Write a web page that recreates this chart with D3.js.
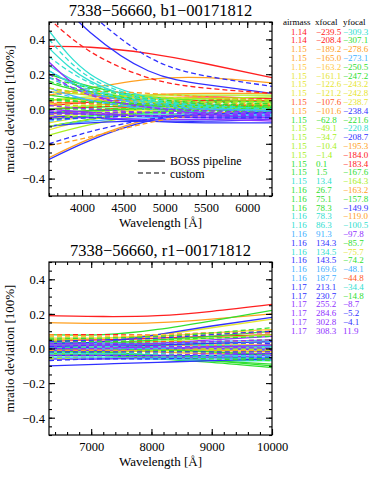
<!DOCTYPE html>
<html>
<head>
<meta charset="utf-8">
<script src="https://cdn.jsdelivr.net/npm/d3@7"></script>
<style>
body { margin: 0; background: #fff; }
text { font-family: "Liberation Serif", "DejaVu Serif", serif; fill: #000; }
</style>
</head>
<body>
<svg id="chart" width="374" height="480"></svg>
<script>
// colours used by the fibres (rainbow table)
var palette = {
    red: "#ff2020", ored: "#ff5a1e", orange: "#ffa020", yorange: "#ffc840",
    yellow: "#e6e630", ygreen: "#a8f020", green: "#30e030", cyan: "#30e0d0",
    lblue: "#40b0ff", blue: "#3030ff", purple: "#9030ff"
};

// fibre table
var airmass = ["1.14","1.14","1.15","1.15","1.15","1.15","1.15","1.15","1.15","1.15","1.15","1.15","1.15","1.15","1.15","1.15","1.15","1.15",
    "1.16","1.16","1.16","1.16","1.16","1.16","1.16","1.16","1.16","1.16","1.16","1.17","1.17","1.17","1.17","1.17","1.17"];
var xfocal = ["\u2212239.5","\u2212208.4","\u2212189.2","\u2212165.0","\u2212163.2","\u2212161.1","\u2212122.6","\u2212121.2","\u2212107.6","\u2212101.6",
    "\u221262.8","\u221249.1","\u221234.7","\u221210.4","\u22121.4","0.1","1.5","13.4","26.7","75.1","78.3","78.3","86.3","91.3",
    "134.3","134.5","143.5","169.6","187.7","213.1","230.7","255.2","284.6","302.8","308.3"];
var yfocal = ["\u2212309.3","\u2212307.1","\u2212278.6","\u2212273.1","\u2212250.5","\u2212247.2","\u2212243.2","\u2212242.8","\u2212238.7","\u2212238.4",
    "\u2212221.6","\u2212220.8","\u2212208.7","\u2212195.3","\u2212184.0","\u2212183.4","\u2212167.6","\u2212164.3","\u2212163.2","\u2212157.8",
    "\u2212149.9","\u2212119.0","\u2212100.5","\u221297.8","\u221285.7","\u221275.7","\u221274.2","\u221248.1","\u221244.8","\u221234.4",
    "\u221214.8","\u22128.7","\u22125.2","\u22124.1","11.9"];
var fiberColor = ["red","red","orange","orange","yorange","yellow","yellow","yellow","ored","orange","green","ygreen","ygreen","ygreen","ygreen",
    "green","green","cyan","green","green","green","cyan","cyan","lblue","blue","cyan","blue","lblue","lblue","blue","blue",
    "purple","purple","purple","purple"];
var yfocalColor = ["cyan","green","orange","lblue","green","green","yellow","yellow","yellow","blue","green","cyan","blue","orange","red",
    "red","green","ygreen","orange","green","blue","orange","cyan","purple","green","yellow","green","lblue","ored","cyan","green",
    "purple","blue","blue","purple"];

// b1 camera: mratio deviation at these wavelengths
var b1Wave = [3600, 4100, 4800, 5500, 6300];
var b1Solid = [
    [0.36, 0.355, 0.32, 0.26, 0.18], [0.02, 0.04, 0.06, 0.07, 0.06], [-0.28, -0.17, -0.06, -0.01, 0.0], [0.08, 0.12, 0.17, 0.18, 0.15],
    [0.05, 0.06, 0.07, 0.06, 0.04], [-0.12, -0.06, -0.01, 0.01, 0.0], [-0.08, -0.04, 0.0, 0.02, 0.03], [0.0, 0.02, 0.04, 0.05, 0.05],
    [-0.03, -0.01, 0.02, 0.04, 0.05], [0.03, 0.05, 0.08, 0.09, 0.09], [0.2, 0.13, 0.07, 0.05, 0.04], [-0.15, -0.09, -0.03, 0.0, 0.01],
    [0.1, 0.08, 0.06, 0.06, 0.07], [0.05, 0.07, 0.08, 0.08, 0.08], [-0.05, -0.02, 0.01, 0.02, 0.02], [0.15, 0.09, 0.04, 0.02, 0.01],
    [-0.1, -0.06, -0.02, 0.0, 0.0], [0.45, 0.2, 0.07, 0.03, 0.01], [0.0, 0.01, 0.02, 0.02, 0.01], [-0.02, -0.01, 0.0, 0.0, -0.01],
    [0.08, 0.05, 0.02, 0.0, -0.02], [0.35, 0.16, 0.05, 0.01, -0.01], [0.25, 0.12, 0.04, 0.0, -0.02], [0.22, 0.1, 0.02, -0.02, -0.03],
    [-0.29, -0.18, -0.07, -0.03, -0.02], [-0.06, -0.04, -0.03, -0.03, -0.04], [0.68, 0.44, 0.22, 0.14, 0.09], [-0.1, -0.07, -0.05, -0.05, -0.05],
    [0.12, 0.05, 0.0, -0.02, -0.04], [-0.04, -0.05, -0.07, -0.08, -0.08], [-0.1, -0.08, -0.07, -0.07, -0.06], [0.27, 0.09, 0.01, -0.03, -0.05],
    [-0.05, -0.05, -0.06, -0.06, -0.07], [0.0, -0.02, -0.04, -0.05, -0.06], [-0.02, -0.03, -0.04, -0.04, -0.05]
];
var b1Custom = [
    [0.52, 0.33, 0.18, 0.12, 0.09], [0.0, 0.01, 0.03, 0.05, 0.06], [-0.21, -0.16, -0.08, -0.03, 0.0], [0.08, 0.1, 0.09, 0.07, 0.05],
    [0.1, 0.09, 0.06, 0.04, 0.03], [-0.04, -0.02, 0.0, 0.01, 0.01], [0.03, 0.03, 0.03, 0.02, 0.01], [-0.06, -0.03, 0.0, 0.02, 0.02],
    [0.04, 0.03, 0.02, 0.02, 0.02], [0.12, 0.08, 0.04, 0.03, 0.03], [0.18, 0.12, 0.06, 0.04, 0.03], [-0.1, -0.06, -0.02, 0.0, 0.0],
    [0.12, 0.09, 0.07, 0.06, 0.05], [0.06, 0.05, 0.04, 0.04, 0.04], [0.02, 0.02, 0.02, 0.01, 0.0], [0.16, 0.1, 0.05, 0.03, 0.02],
    [-0.06, -0.04, -0.02, -0.01, -0.01], [0.4, 0.18, 0.06, 0.02, 0.0], [0.05, 0.04, 0.03, 0.02, 0.01], [0.0, 0.0, 0.0, -0.01, -0.02],
    [0.06, 0.04, 0.02, 0.01, 0.0], [0.3, 0.15, 0.05, 0.02, 0.0], [0.22, 0.11, 0.04, 0.01, -0.01], [0.18, 0.09, 0.03, 0.0, -0.01],
    [-0.2, -0.13, -0.06, -0.03, -0.02], [-0.03, -0.02, -0.02, -0.02, -0.03], [0.78, 0.55, 0.3, 0.19, 0.13], [-0.07, -0.05, -0.04, -0.04, -0.04],
    [0.1, 0.05, 0.01, 0.0, -0.01], [-0.02, -0.03, -0.04, -0.05, -0.05], [-0.06, -0.05, -0.04, -0.04, -0.04], [0.2, 0.08, 0.01, -0.01, -0.02],
    [-0.03, -0.03, -0.04, -0.04, -0.04], [0.02, 0.0, -0.02, -0.03, -0.03], [-0.01, -0.02, -0.02, -0.02, -0.03]
];

// r1 camera
var r1Wave = [6300, 7200, 8100, 9000, 10000];
var r1Solid = [
    [0.19, 0.185, 0.19, 0.215, 0.255], [0.05, 0.05, 0.06, 0.07, 0.08], [0.15, 0.145, 0.15, 0.17, 0.2], [0.02, 0.01, 0.0, -0.01, -0.02],
    [0.06, 0.06, 0.07, 0.09, 0.11], [0.05, 0.06, 0.08, 0.12, 0.17], [0.0, 0.01, 0.02, 0.03, 0.04], [-0.03, -0.02, -0.01, 0.0, 0.01],
    [0.04, 0.03, 0.02, 0.02, 0.02], [0.0, -0.01, -0.02, -0.03, -0.03], [0.08, 0.08, 0.11, 0.16, 0.22], [0.03, 0.03, 0.04, 0.06, 0.08],
    [-0.02, -0.02, -0.01, 0.0, 0.02], [0.01, 0.0, -0.01, -0.02, -0.03], [-0.04, -0.04, -0.05, -0.05, -0.06], [0.0, -0.02, -0.04, -0.07, -0.1],
    [-0.03, -0.04, -0.06, -0.08, -0.11], [-0.05, -0.05, -0.06, -0.07, -0.07], [0.04, 0.02, 0.0, -0.02, -0.04], [-0.01, -0.03, -0.05, -0.07, -0.09],
    [0.02, 0.03, 0.05, 0.07, 0.1], [0.0, 0.0, 0.0, 0.01, 0.01], [-0.02, -0.03, -0.04, -0.05, -0.06], [0.03, 0.03, 0.03, 0.04, 0.05],
    [0.03, 0.04, 0.08, 0.13, 0.18], [0.02, 0.02, 0.01, 0.0, -0.01], [-0.1, -0.09, -0.08, -0.07, -0.06], [-0.06, -0.06, -0.06, -0.06, -0.05],
    [0.01, 0.0, 0.0, 0.0, 0.0], [-0.04, -0.04, -0.04, -0.04, -0.03], [0.0, 0.01, 0.02, 0.03, 0.04], [0.02, 0.02, 0.03, 0.05, 0.07],
    [-0.01, -0.01, 0.0, 0.01, 0.02], [-0.06, -0.06, -0.05, -0.05, -0.04], [0.01, 0.01, 0.0, 0.0, -0.01]
];
var r1Custom = [
    [0.08, 0.08, 0.08, 0.09, 0.09], [0.0, 0.0, 0.01, 0.01, 0.02], [0.08, 0.07, 0.07, 0.08, 0.1], [0.0, 0.0, -0.01, -0.01, -0.02],
    [0.07, 0.07, 0.08, 0.09, 0.11], [0.04, 0.05, 0.06, 0.08, 0.1], [0.01, 0.01, 0.02, 0.02, 0.03], [-0.05, -0.04, -0.03, -0.02, -0.01],
    [0.05, 0.04, 0.04, 0.04, 0.05], [-0.01, -0.01, -0.01, -0.01, -0.01], [0.06, 0.06, 0.07, 0.09, 0.12], [0.02, 0.02, 0.03, 0.04, 0.05],
    [-0.03, -0.03, -0.02, -0.01, 0.0], [0.03, 0.02, 0.01, 0.0, -0.01], [-0.06, -0.05, -0.05, -0.05, -0.05], [0.01, 0.0, -0.01, -0.02, -0.04],
    [-0.04, -0.04, -0.05, -0.06, -0.07], [-0.04, -0.04, -0.04, -0.05, -0.05], [0.05, 0.04, 0.03, 0.02, 0.01], [-0.02, -0.03, -0.04, -0.05, -0.06],
    [0.04, 0.04, 0.05, 0.06, 0.07], [0.01, 0.01, 0.01, 0.01, 0.02], [-0.03, -0.03, -0.03, -0.04, -0.04], [0.02, 0.02, 0.03, 0.03, 0.04],
    [0.04, 0.05, 0.06, 0.08, 0.1], [0.03, 0.03, 0.02, 0.02, 0.01], [-0.07, -0.06, -0.06, -0.05, -0.05], [-0.05, -0.05, -0.05, -0.05, -0.04],
    [0.0, 0.0, 0.0, 0.01, 0.01], [-0.02, -0.02, -0.02, -0.02, -0.02], [0.01, 0.02, 0.02, 0.03, 0.03], [0.03, 0.03, 0.03, 0.04, 0.05],
    [0.0, 0.0, 0.01, 0.01, 0.02], [-0.04, -0.04, -0.04, -0.03, -0.03], [0.02, 0.02, 0.01, 0.01, 0.0]
];

var svg = d3.select("#chart");
var left = 49, right = 272;

function drawPanel(opt) {
    var x = d3.scaleLinear().domain(opt.xDomain).range([left, right]);
    var y = d3.scaleLinear().domain([-0.5, 0.5]).range([opt.bottom, opt.top]);
    var h = opt.bottom - opt.top;

    svg.append("clipPath").attr("id", opt.id).append("rect")
        .attr("x", left).attr("y", opt.top).attr("width", right - left).attr("height", h);

    var line = d3.line()
        .x(function (d, i) { return x(opt.wave[i]); })
        .y(function (d) { return y(d); })
        .curve(d3.curveNatural);

    var g = svg.append("g").attr("clip-path", "url(#" + opt.id + ")");
    opt.solid.forEach(function (s, i) {
        g.append("path").attr("d", line(s)).attr("fill", "none")
            .attr("stroke", palette[fiberColor[i]]).attr("stroke-width", 1.3);
    });
    opt.custom.forEach(function (s, i) {
        g.append("path").attr("d", line(s)).attr("fill", "none")
            .attr("stroke", palette[fiberColor[i]]).attr("stroke-width", 1.3)
            .attr("stroke-dasharray", "5,3");
    });

    // box
    svg.append("rect").attr("x", left).attr("y", opt.top).attr("width", right - left).attr("height", h)
        .attr("fill", "none").attr("stroke", "#000").attr("stroke-width", 1.2);

    // ticks, IDL style: inward on all four sides
    var xb = svg.append("g").attr("transform", "translate(0," + opt.bottom + ")")
        .call(d3.axisBottom(x).tickValues(opt.xMajor).tickSize(-6).tickPadding(7).tickFormat(d3.format("d")));
    var xbm = svg.append("g").attr("transform", "translate(0," + opt.bottom + ")")
        .call(d3.axisBottom(x).tickValues(opt.xMinor).tickSize(-3).tickFormat(""));
    var xt = svg.append("g").attr("transform", "translate(0," + opt.top + ")")
        .call(d3.axisTop(x).tickValues(opt.xMajor).tickSize(-6).tickFormat(""));
    var xtm = svg.append("g").attr("transform", "translate(0," + opt.top + ")")
        .call(d3.axisTop(x).tickValues(opt.xMinor).tickSize(-3).tickFormat(""));
    var yl = svg.append("g").attr("transform", "translate(" + left + ",0)")
        .call(d3.axisLeft(y).tickValues([-0.4, -0.2, 0, 0.2, 0.4]).tickSize(-6).tickPadding(4).tickFormat(d3.format(".1f")));
    var ylm = svg.append("g").attr("transform", "translate(" + left + ",0)")
        .call(d3.axisLeft(y).tickValues(d3.range(-10, 11).map(function (v) { return v * 0.05; })).tickSize(-3).tickFormat(""));
    var yr = svg.append("g").attr("transform", "translate(" + right + ",0)")
        .call(d3.axisRight(y).tickValues([-0.4, -0.2, 0, 0.2, 0.4]).tickSize(-6).tickFormat(""));
    var yrm = svg.append("g").attr("transform", "translate(" + right + ",0)")
        .call(d3.axisRight(y).tickValues(d3.range(-10, 11).map(function (v) { return v * 0.05; })).tickSize(-3).tickFormat(""));

    [xb, xbm, xt, xtm, yl, ylm, yr, yrm].forEach(function (a) {
        a.select(".domain").remove();
        a.selectAll("line").attr("stroke", "#000").attr("stroke-width", 1.1);
        a.selectAll("text").style("font-family", "Liberation Serif").style("font-size", "12.5px").attr("fill", "#000");
    });
    yl.selectAll("text").attr("dy", "0.35em");

    svg.append("text").attr("x", (left + right) / 2).attr("y", opt.top - 6)
        .attr("text-anchor", "middle").style("font-size", "16.5px").text(opt.title);
    svg.append("text").attr("x", (left + right) / 2).attr("y", opt.bottom + 31)
        .attr("text-anchor", "middle").style("font-size", "13px").text("Wavelength [\u00c5]");
    svg.append("text").attr("transform", "translate(14," + (opt.top + h / 2) + ") rotate(-90)")
        .attr("text-anchor", "middle").style("font-size", "13px").text("mratio deviation [100%]");
}

drawPanel({
    id: "clipB", top: 22, bottom: 196, xDomain: [3600, 6300], wave: b1Wave,
    solid: b1Solid, custom: b1Custom, title: "7338\u221256660, b1\u221200171812",
    xMajor: d3.range(4000, 6001, 500), xMinor: d3.range(3600, 6301, 100)
});
drawPanel({
    id: "clipR", top: 262, bottom: 435, xDomain: [6300, 10000], wave: r1Wave,
    solid: r1Solid, custom: r1Custom, title: "7338\u221256660, r1\u221200171812",
    xMajor: d3.range(7000, 10001, 1000), xMinor: d3.range(6400, 10001, 200)
});

// legend
var legend = svg.append("g");
legend.append("line").attr("x1", 138).attr("x2", 165).attr("y1", 161).attr("y2", 161)
    .attr("stroke", "#000").attr("stroke-width", 1.2);
legend.append("line").attr("x1", 138).attr("x2", 165).attr("y1", 173).attr("y2", 173)
    .attr("stroke", "#000").attr("stroke-width", 1.2).attr("stroke-dasharray", "5,3");
legend.append("text").attr("x", 170).attr("y", 165).style("font-size", "12px").text("BOSS pipeline");
legend.append("text").attr("x", 170).attr("y", 177.5).style("font-size", "12px").text("custom");

// table of fibres
var table = svg.append("g").style("font-size", "9px");
table.append("text").attr("x", 283).attr("y", 25).text("airmass").style("font-size", "9px");
table.append("text").attr("x", 315).attr("y", 25).text("xfocal").style("font-size", "9px");
table.append("text").attr("x", 343).attr("y", 25).text("yfocal").style("font-size", "9px");
airmass.forEach(function (a, i) {
    var yy = 34.5 + i * 8.8;
    table.append("text").attr("x", 291).attr("y", yy).text(a)
        .style("font-size", "9px").style("fill", palette[fiberColor[i]]);
    table.append("text").attr("x", 316).attr("y", yy).text(xfocal[i])
        .style("font-size", "9px").style("fill", palette[fiberColor[i]]);
    table.append("text").attr("x", 343).attr("y", yy).text(yfocal[i])
        .style("font-size", "9px").style("fill", palette[yfocalColor[i]]);
});
</script>
</body>
</html>
